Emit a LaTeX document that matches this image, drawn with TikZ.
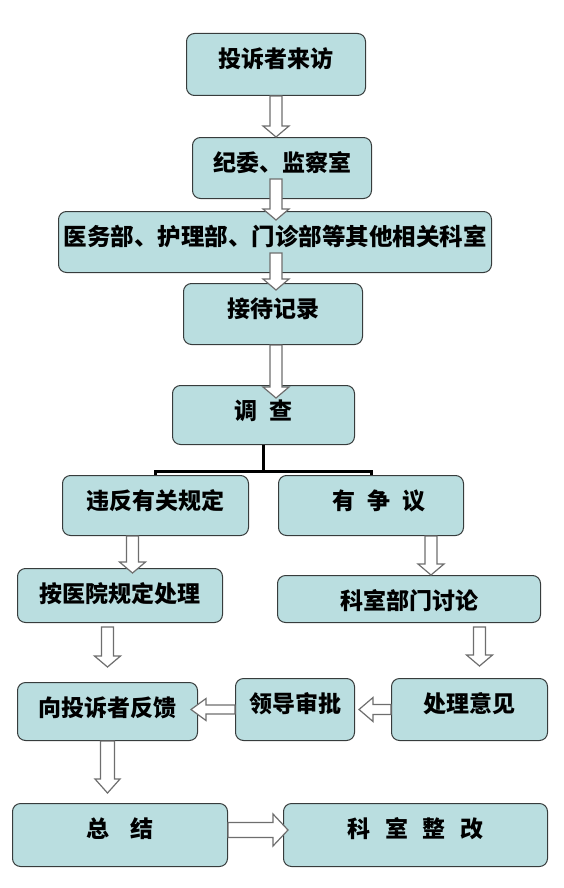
\documentclass[tikz,border=0pt]{standalone}
\usepackage{fontspec}
\newfontfamily\cjk{Noto Sans CJK SC}
\usetikzlibrary{calc}
\definecolor{boxfill}{RGB}{186,222,224}
\definecolor{boxline}{RGB}{55,60,60}
\definecolor{arrline}{RGB}{110,110,110}
\tikzset{
  box/.style={draw=boxline, fill=boxfill, line width=1pt, rounded corners=8pt,
    anchor=north west, inner sep=0pt, text height=34pt,
    font=\cjk\bfseries\fontsize{23}{23}\selectfont},
  treeline/.style={line width=3pt, black},
  arrowline/.style={draw=arrline, fill=white, line width=1.2pt, line join=miter},
  arrshaft/.store in=\arrshaft, arrhead/.store in=\arrhead, arrlen/.store in=\arrlen
}
% hollow block arrow from #2 to #3
\newcommand{\blockarr}[3][]{%
  \begin{scope}[arrshaft=6, arrhead=13, arrlen=11, #1]
  \draw[arrowline] let \p1=(#2), \p2=(#3),
      \n1={veclen(\x2-\x1,\y2-\y1)}, \n2={atan2(\y2-\y1,\x2-\x1)} in
    [shift={(\p1)}, rotate=\n2]
    (0,-\arrshaft) -- (\n1-\arrlen,-\arrshaft) -- (\n1-\arrlen,-\arrhead) -- (\n1,0)
    -- (\n1-\arrlen,\arrhead) -- (\n1-\arrlen,\arrshaft) -- (0,\arrshaft) -- cycle;
  \end{scope}}
\begin{document}
\begin{tikzpicture}[x=1pt, y=-1pt]
  \useasboundingbox (0,0) rectangle (564,888);
  % boxes
  \node[box, minimum width=179pt, text depth=28pt] (b1) at (186,33) {投诉者来访};
  \node[box, minimum width=179pt, text depth=27pt] (b2) at (192,137) {纪委、监察室};
  \node[box, minimum width=433pt, text depth=27pt, font=\cjk\bfseries\fontsize{23.5}{23.5}\selectfont] (b3) at (58,211) {医务部、护理部、门诊部等其他相关科室};
  \node[box, minimum width=179pt, text depth=27pt] (b4) at (183,283) {接待记录};
  \node[box, minimum width=182pt, text depth=25pt] (b5) at (172,385) {调\hspace{13pt}查};
  \node[box, minimum width=186pt, text depth=26pt] (b6) at (62,475) {违反有关规定};
  \node[box, minimum width=185pt, text depth=26pt] (b7) at (278,475) {\hspace{16pt}有\hspace{12pt}争\hspace{12pt}议};
  \node[box, minimum width=205pt, text depth=20pt] (b8) at (17,568) {按医院规定处理};
  \node[box, minimum width=263pt, text depth=13pt] (b9) at (277,575) {科室部门讨论};
  \node[box, minimum width=180pt, text depth=24pt] (b10) at (17,682) {向投诉者反馈};
  \node[box, minimum width=119pt, text depth=28pt] (b11) at (235,678) {领导审批};
  \node[box, minimum width=156pt, text depth=28pt] (b12) at (391,678) {处理意见};
  \node[box, minimum width=215pt, text depth=29pt] (b13) at (12,803) {总\hspace{22pt}结\hspace{42pt}};
  \node[box, minimum width=264pt, text depth=29pt] (b14) at (283,803) {科\hspace{15pt}室\hspace{15pt}整\hspace{15pt}改\hspace{8pt}};
  % tree under the investigation box
  \draw[treeline] (b5.south) -- ++(0,26) coordinate (fork);
  \draw[treeline] (b6.north) |- (fork) -| (b7.north);
  % block arrows
  \blockarr{b1.south}{b1.south |- b2.north}
  \blockarr{$(b1.south |- b2.south)+(0,-20)$}{$(b1.south |- b3.north)+(0,9)$}
  \blockarr{$(b1.south |- b3.south)+(0,-20)$}{$(b1.south |- b4.north)+(0,7)$}
  \blockarr{b1.south |- b4.south}{$(b1.south |- b5.north)+(0,13)$}
  \blockarr{$(b6.south)+(-23,0)$}{$(b6.south |- b8.north)+(-23,5)$}
  \blockarr{$(b7.south)+(60,0)$}{$(b7.south |- b9.north)+(60,0)$}
  \blockarr{$(b10.north |- b8.south)+(0,4)$}{$(b10.north)+(0,-15)$}
  \blockarr{$(b12.north |- b9.south)+(10,4)$}{$(b12.north)+(10,-12)$}
  \blockarr[arrshaft=4.5, arrhead=11, arrlen=15]{b11.west}{$(b11.west -| b10.east)+(-7,0)$}
  \blockarr[arrshaft=5, arrhead=12, arrlen=14]{b12.west}{$(b12.west -| b11.east)+(4,0)$}
  \blockarr[arrshaft=7, arrhead=12.5, arrlen=14]{b10.south}{$(b10.south |- b13.north)+(0,-10)$}
  \blockarr[arrshaft=7.5, arrhead=16, arrlen=15]{$(b13.east)+(0,-5)$}{$(b13.east |- b14.west)+(60,-5)$}
\end{tikzpicture}
\end{document}
